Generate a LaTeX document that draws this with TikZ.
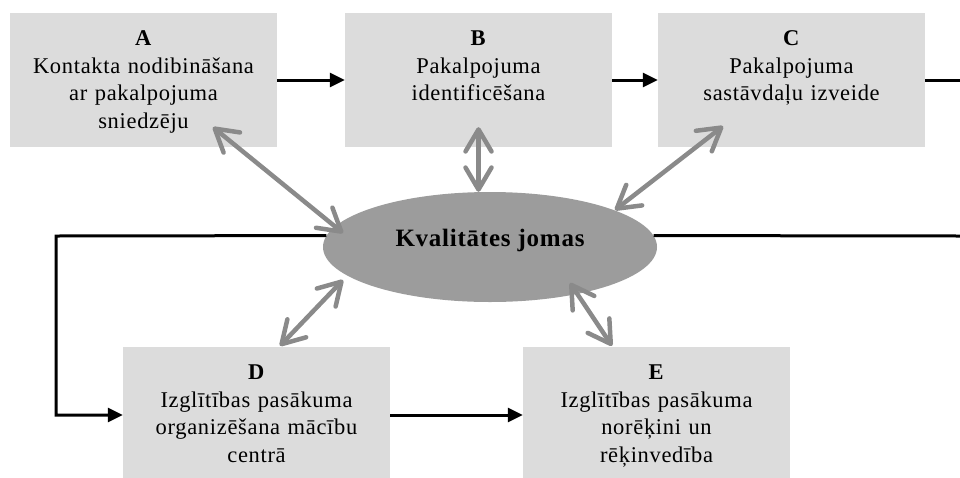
\documentclass[tikz,border=0pt]{standalone}
\usepackage{fontspec}
\setmainfont{Liberation Serif}[LetterSpace=3]
\usetikzlibrary{arrows.meta,calc,shapes.geometric}
\definecolor{boxgray}{HTML}{DCDCDC}
\definecolor{ovalgray}{HTML}{9C9C9C}
\definecolor{linkgray}{HTML}{8A8A8A}
\begin{document}
\begin{tikzpicture}[x=1pt,y=-1pt,
  stagebox/.style={rectangle, fill=boxgray, draw=none, inner sep=0pt,
    minimum width=267pt, minimum height=134pt},
  lowbox/.style={stagebox, minimum height=136pt},
  stagetext/.style={anchor=base, align=center, text width=262pt, inner sep=0pt,
    font=\fontsize{22.5}{27.7}\selectfont},
  flow/.style={line width=3pt, -{Triangle[length=15pt,width=14pt]}},
  flowline/.style={line width=3pt},
  link/.style={draw=linkgray, line width=4.5pt,
    {Straight Barb[length=22pt,width=26pt,round]}-{Straight Barb[length=22pt,width=26pt,round]}}
]
\path[use as bounding box, clip] (0,0) rectangle (960,477);

% process stages
\node[stagebox] (A) at (143.5,80) {};
\node[stagebox] (B) at (478.5,80) {};
\node[stagebox] (C) at (791.5,80) {};
\node[lowbox]   (D) at (256.5,415) {};
\node[lowbox]   (E) at (656.5,415) {};

\node[stagetext] (tA) at ($(A.north)+(0,32.5)$)
  {\textbf{A}\\Kontakta nodibināšana\\ar pakalpojuma\\sniedzēju};
\node[stagetext] (tB) at ($(B.north)+(0,32.5)$)
  {\textbf{B}\\Pakalpojuma\\identificēšana};
\node[stagetext] (tC) at ($(C.north)+(0,32.5)$)
  {\textbf{C}\\Pakalpojuma\\sastāvdaļu izveide};
\node[stagetext] (tD) at ($(D.north)+(0,32.5)$)
  {\textbf{D}\\Izglītības pasākuma\\organizēšana mācību\\centrā};
\node[stagetext] (tE) at ($(E.north)+(0,32.5)$)
  {\textbf{E}\\Izglītības pasākuma\\norēķini un\\rēķinvedība};

% central quality area
\node[ellipse, fill=ovalgray, inner sep=0pt, minimum width=334pt,
  minimum height=110pt] (K) at (490,247) {};
\node[anchor=base, inner sep=0pt, font=\fontsize{25}{30}\selectfont\bfseries]
  (kT) at ($(K.center)+(0,-1)$) {Kvalitātes jomas};

% flow between stages
\coordinate (Cout) at (960,80);
\coordinate (Kout) at (960,236);
\coordinate (bendTop) at (56,236);
\coordinate (bendBot) at (56,415);

\draw[flow] (A.east) -- (B.west);
\draw[flow] (B.east) -- (C.west);
\draw[flowline] (C.east) -- (Cout);
\draw[flowline] (K.4) -- (Kout);
\draw[flow] (K.176) -- (bendTop) -- (bendBot) -- (D.west);
\draw[flow] (D.east) -- (E.west);

% links between stages and the quality area
\draw[link] ($(A.south)+(69.5,-20)$) -- ($(K.center)+(-147,-14)$);
\draw[link] ($(B.south)+(0,-20)$) -- (K.north -| B.south);
\draw[link] ($(C.south)+(-68.5,-21)$) -- ($(K.center)+(125,-37)$);
\draw[link] ($(D.north)+(23.5,-1)$) -- ($(K.center)+(-147,33)$);
\draw[link] ($(E.north)+(-44.5,-1)$) -- ($(K.center)+(80,36)$);
\end{tikzpicture}
\end{document}
